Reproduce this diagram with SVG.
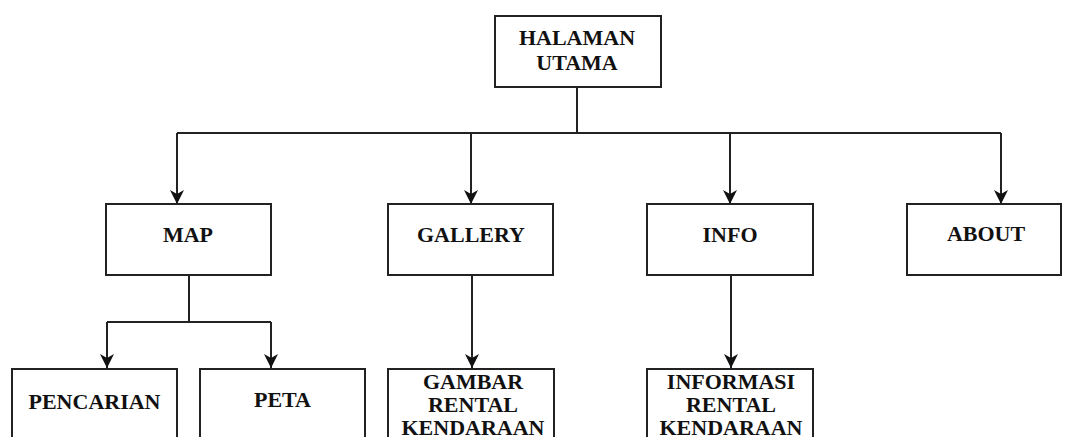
<svg xmlns="http://www.w3.org/2000/svg" width="1065" height="437" viewBox="0 0 1065 437">
<style>
.box{fill:#fff;stroke:#222;stroke-width:2}
.t{font-family:"Liberation Serif","Times New Roman",serif;font-weight:bold;font-size:22px;fill:#111;text-anchor:middle}
.c{fill:none;stroke:#222;stroke-width:2}
</style>
<defs>
<marker id="ah" markerUnits="userSpaceOnUse" markerWidth="16" markerHeight="16" viewBox="0 0 16 16" refX="14" refY="8" orient="auto">
<path d="M0,1 L14,8 L0,15 L4,8 Z" fill="#111"/>
</marker>
</defs>
<rect width="1065" height="437" fill="#fff"/>
<g id="connectors">
<path class="c" d="M577,87 V133"/>
<path class="c" d="M177,133 H1001"/>
<path class="c" d="M177,133 V204" marker-end="url(#ah)"/>
<path class="c" d="M471,133 V204" marker-end="url(#ah)"/>
<path class="c" d="M730,133 V204" marker-end="url(#ah)"/>
<path class="c" d="M1001,133 V204" marker-end="url(#ah)"/>
<path class="c" d="M189,275 V322"/>
<path class="c" d="M107,322 H271"/>
<path class="c" d="M107,322 V368" marker-end="url(#ah)"/>
<path class="c" d="M271,322 V368" marker-end="url(#ah)"/>
<path class="c" d="M472,275 V368" marker-end="url(#ah)"/>
<path class="c" d="M731,275 V368" marker-end="url(#ah)"/>
</g>
<g id="halaman-utama">
<rect class="box" x="495" y="16" width="166" height="71"/>
<text class="t" x="577" y="45">HALAMAN</text>
<text class="t" x="577" y="70">UTAMA</text>
</g>
<g id="map">
<rect class="box" x="106" y="204" width="165" height="71"/>
<text class="t" x="188" y="242">MAP</text>
</g>
<g id="gallery">
<rect class="box" x="388" y="204" width="165" height="71"/>
<text class="t" x="471" y="242">GALLERY</text>
</g>
<g id="info">
<rect class="box" x="647" y="204" width="166" height="71"/>
<text class="t" x="730" y="242">INFO</text>
</g>
<g id="about">
<rect class="box" x="907" y="204" width="154" height="71"/>
<text class="t" x="986" y="241">ABOUT</text>
</g>
<g id="pencarian">
<rect class="box" x="12" y="369" width="165" height="80"/>
<text class="t" x="94.5" y="409">PENCARIAN</text>
</g>
<g id="peta">
<rect class="box" x="200" y="369" width="165" height="80"/>
<text class="t" x="282.5" y="407">PETA</text>
</g>
<g id="gambar">
<rect class="box" x="388" y="369" width="166" height="80"/>
<text class="t" x="473" y="389">GAMBAR</text>
<text class="t" x="473" y="412">RENTAL</text>
<text class="t" x="473" y="435">KENDARAAN</text>
</g>
<g id="informasi">
<rect class="box" x="647" y="369" width="166" height="80"/>
<text class="t" x="731" y="389">INFORMASI</text>
<text class="t" x="731" y="412">RENTAL</text>
<text class="t" x="731" y="435">KENDARAAN</text>
</g>
</svg>
